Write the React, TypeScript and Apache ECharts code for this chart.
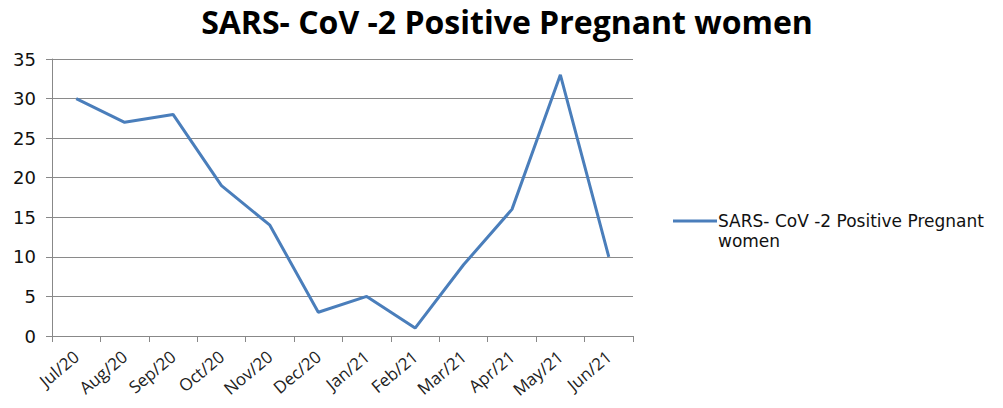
import React, { useEffect, useRef } from "react";
import * as echarts from "echarts";

const categories = ["Jul/20", "Aug/20", "Sep/20", "Oct/20", "Nov/20", "Dec/20", "Jan/21", "Feb/21", "Mar/21", "Apr/21", "May/21", "Jun/21"];
const positiveValues = [30, 27, 28, 19, 14, 3, 5, 1, 9, 16, 33, 10];
const seriesName = "SARS- CoV -2 Positive Pregnant women";
const titleText = "SARS- CoV -2 Positive Pregnant women";

export default function App() {
  const ref = useRef<HTMLDivElement>(null);
  useEffect(() => {
    const chart = echarts.init(ref.current!, null, { renderer: "svg" });
    chart.setOption({
      animation: false,
      backgroundColor: "#ffffff",
      title: {
        text: titleText,
        left: 502,
        textAlign: "center",
        top: 0,
        textStyle: { fontFamily: "Open Sans", fontWeight: "bold", fontSize: 32, color: "#000" },
      },
      legend: {
        orient: "vertical",
        left: 668,
        top: 186,
        itemWidth: 44,
        itemHeight: 3,
        itemGap: 0,
        icon: "rect",
        formatter: () => "\nSARS- CoV -2 Positive Pregnant\nwomen",
        textStyle: { fontFamily: "DejaVu Sans", fontSize: 17, color: "#111", lineHeight: 20, padding: [0, 0, 0, -4] },
      },
      grid: { left: 52, right: 370, top: 59, bottom: 72 },
      xAxis: {
        type: "category",
        data: categories,
        boundaryGap: true,
        axisLine: { lineStyle: { color: "#888", width: 1 } },
        axisTick: { show: true, alignWithLabel: false, length: 6, lineStyle: { color: "#888" } },
        axisLabel: { rotate: 40, fontFamily: "Open Sans", fontSize: 17, color: "#222", margin: 18, interval: 0 },
      },
      yAxis: {
        type: "value",
        min: 0,
        max: 35,
        interval: 5,
        axisLine: { show: true, lineStyle: { color: "#888" } },
        axisTick: { show: true, length: 6, lineStyle: { color: "#888" } },
        axisLabel: { fontFamily: "DejaVu Sans", fontSize: 18, color: "#111", margin: 16 },
        splitLine: { lineStyle: { color: "#8a8a8a", width: 1 } },
      },
      series: [
        {
          name: seriesName,
          type: "line",
          data: positiveValues,
          symbol: "none",
          lineStyle: { color: "#4a7ebb", width: 3 },
          itemStyle: { color: "#4a7ebb" },
        },
      ],
    });
    return () => chart.dispose();
  }, []);
  return <div ref={ref} style={{ position: "fixed", left: 0, top: 0, width: 1003, height: 408 }} />;
}
